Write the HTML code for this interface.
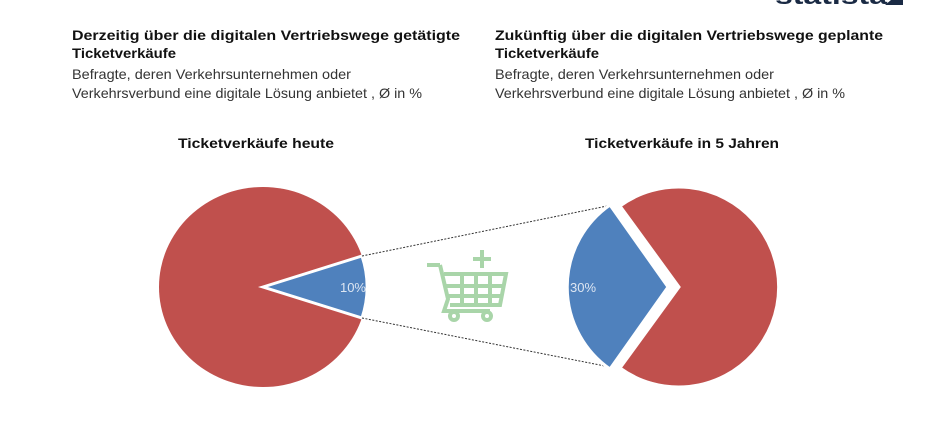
<!DOCTYPE html>
<html><head><meta charset="utf-8"><style>
html,body{margin:0;padding:0;background:#fff;}
svg{display:block;font-family:"Liberation Sans",sans-serif;}
</style></head><body>
<svg width="945" height="421" viewBox="0 0 945 421" xmlns="http://www.w3.org/2000/svg">
<rect width="945" height="421" fill="#fff"/>
<text x="775" y="4" font-size="24" font-weight="bold" fill="#1a2a44" textLength="112" lengthAdjust="spacingAndGlyphs">statista</text>
<path d="M891 0 L903 0 L903 5 L885 5 Z" fill="#1a2a44"/>
<g font-size="14" fill="#111">
<text x="72" y="40" font-weight="bold" textLength="388" lengthAdjust="spacingAndGlyphs">Derzeitig über die digitalen Vertriebswege getätigte</text>
<text x="72" y="58" font-weight="bold" textLength="104" lengthAdjust="spacingAndGlyphs">Ticketverkäufe</text>
<text x="72" y="79" textLength="279" lengthAdjust="spacingAndGlyphs" fill="#333">Befragte, deren Verkehrsunternehmen oder</text>
<text x="72" y="98" textLength="350" lengthAdjust="spacingAndGlyphs" fill="#333">Verkehrsverbund eine digitale Lösung anbietet , Ø in %</text>
<text x="495" y="40" font-weight="bold" textLength="388" lengthAdjust="spacingAndGlyphs">Zukünftig über die digitalen Vertriebswege geplante</text>
<text x="495" y="58" font-weight="bold" textLength="104" lengthAdjust="spacingAndGlyphs">Ticketverkäufe</text>
<text x="495" y="79" textLength="279" lengthAdjust="spacingAndGlyphs" fill="#333">Befragte, deren Verkehrsunternehmen oder</text>
<text x="495" y="98" textLength="350" lengthAdjust="spacingAndGlyphs" fill="#333">Verkehrsverbund eine digitale Lösung anbietet , Ø in %</text>
<text x="178" y="148" font-weight="bold" textLength="156" lengthAdjust="spacingAndGlyphs">Ticketverkäufe heute</text>
<text x="585" y="148" font-weight="bold" textLength="194" lengthAdjust="spacingAndGlyphs">Ticketverkäufe in 5 Jahren</text>
</g>
<!-- left pie -->
<ellipse cx="263" cy="287" rx="104" ry="100" fill="#c0504d"/>
<path d="M263 287 L362 256 A104 100 0 0 1 362 318 Z" fill="#4f81bd" stroke="#fff" stroke-width="3" stroke-linejoin="miter"/>
<text x="366" y="292" font-size="13" fill="#dde6f2" text-anchor="end">10%</text>
<!-- dotted connectors -->
<line x1="362" y1="256" x2="612" y2="205" stroke="#333" stroke-width="1" stroke-dasharray="2,1.5"/>
<line x1="362" y1="318" x2="610" y2="367" stroke="#333" stroke-width="1" stroke-dasharray="2,1.5"/>
<!-- right pie -->
<path d="M679 287 L620 206 A100 100 0 1 1 620 368 Z" fill="#c0504d" stroke="#fff" stroke-width="3"/>
<path d="M668 287 L610 205 A100 100 0 0 0 610 369 Z" fill="#4f81bd" stroke="#fff" stroke-width="3"/>
<text x="570" y="292" font-size="13" fill="#dde6f2">30%</text>
<!-- cart -->
<g stroke="#a9d5a9" stroke-width="4" fill="none" stroke-linecap="butt">
<line x1="427" y1="265" x2="440" y2="265"/>
<path d="M440 265 L448 299 L444 311 L490 311"/>
<path d="M444 274 L506 274 L500 305 L450 305"/>
<line x1="445" y1="286" x2="504" y2="286"/>
<line x1="448" y1="296" x2="502" y2="296"/>
<line x1="462" y1="274" x2="462" y2="305"/>
<line x1="476" y1="274" x2="476" y2="305"/>
<line x1="490" y1="274" x2="490" y2="305"/>
<line x1="482" y1="250" x2="482" y2="268"/>
<line x1="473" y1="259" x2="491" y2="259"/>
<circle cx="454" cy="316" r="4"/>
<circle cx="487" cy="316" r="4"/>
</g>
</svg>
</body></html>
